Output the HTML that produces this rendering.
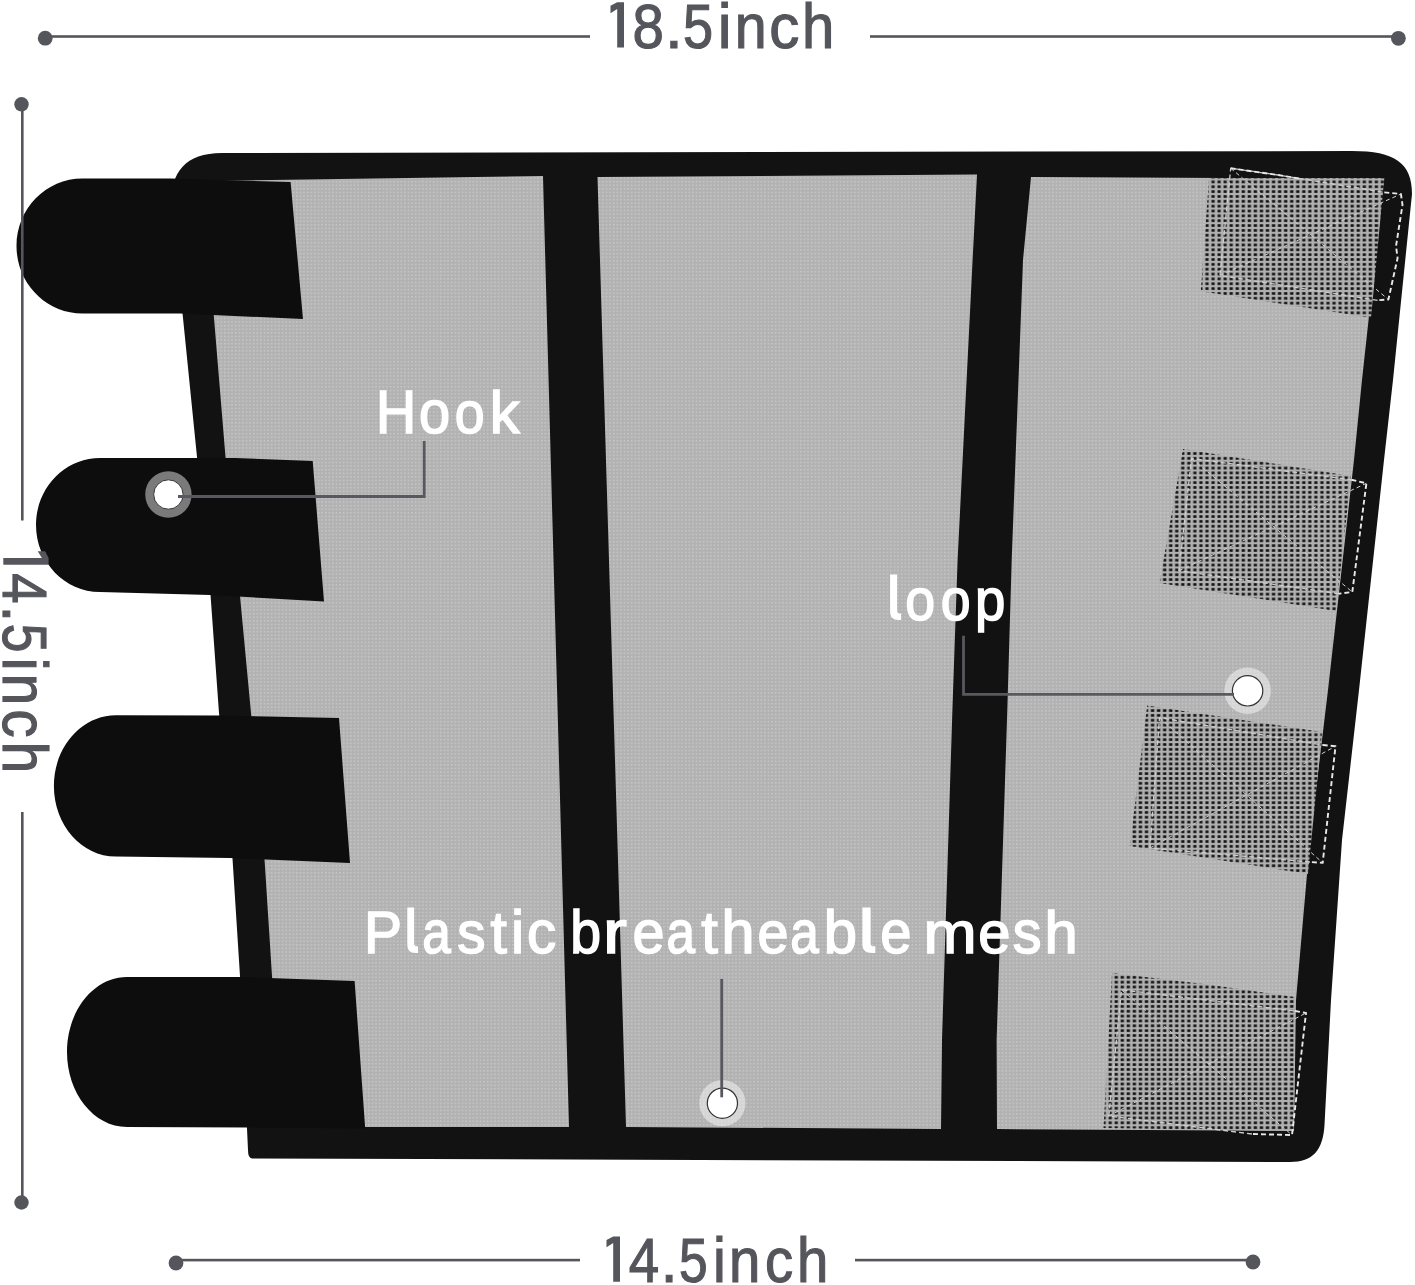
<!DOCTYPE html>
<html><head><meta charset="utf-8"><style>
html,body{margin:0;padding:0;background:#fff;width:1415px;height:1285px;overflow:hidden}
svg{display:block}
</style></head><body>
<svg width="1415" height="1285" viewBox="0 0 1415 1285">
<defs>
<pattern id="pgrid" patternUnits="userSpaceOnUse" x="0" y="0" width="6.05" height="4.85">
<rect width="6.05" height="4.85" fill="#b0b0b0"/>
<rect x="1.4" y="1.15" width="3.3" height="2.6" fill="#141414"/>
</pattern>
<pattern id="pmesh" patternUnits="userSpaceOnUse" x="0" y="0" width="3.6" height="3.6">
<rect width="3.6" height="3.6" fill="#b2b2b2"/>
<rect x="1" y="1" width="1.3" height="1.3" fill="#cfcfcf"/>
</pattern>
</defs>
<path fill="#121212" d="M171,205 C171,172 185,153 222,153 L1352,151 C1395,151 1412,163 1412,194 L1393,380 L1384,460 L1359,690 L1342,840 L1331,1000 L1324.5,1125 C1323,1150 1313,1162 1290,1162 L252,1158.5 Q248,1158 248,1150 L240,976 L232.6,860 L219,713 L210.6,596 L197,457 L183,318 Z"/>
<g fill="url(#pmesh)">
<path d="M203,181 L543,176 L569,1127 L281,1127 L272,976 L264.7,862 L251,713 L240,596 L225.5,457 L214,318 Z"/>
<path d="M597.5,177 L977,174.5 L972.6,260 L957.6,560 L952.4,710 L942,1040 L941,1129 L626,1127 Z"/>
<path d="M1031,177 L1384,179 L1362,380 L1354,460 L1328,690 L1310,840 L1296,1000 L1294,1131 L997,1129 L996.6,1040 L1007.3,710 L1011.7,560 L1023,260 Z"/>
</g>
<g fill="url(#pgrid)">
<path d="M1209,178 L1384.3,178 L1371,317.7 L1200.8,291.2 Z"/><path d="M1183,449 L1351,476 L1336,611 L1159.5,583 Z"/><path d="M1147.2,705.5 L1322,732 L1308,874 L1129.8,846 Z"/><path d="M1112,973 L1208,984.5 L1295,997 L1294,1131 L1103.5,1128 Z"/>
</g>
<g fill="none" stroke="#cdcdcd" stroke-width="1.3" stroke-dasharray="5 3" stroke-linejoin="round">
<path d="M1377.6,300.3 L1220,275.4 L1230.7,168.3 L1278,175 L1354.4,187.4 L1384.3,192.4"/><path d="M1339,593.7 L1179,570.7 L1191.5,458.5 L1351.4,479.8"/><path d="M1310,862 L1150,848 L1159.5,717.6 L1322.7,745"/><path d="M1251.9,1134 L1108.8,1116 L1121.5,989.8 L1295,1011"/>
</g>
<g fill="none" stroke="#e8e8e8" stroke-width="1.9" stroke-dasharray="5 3" stroke-linejoin="round">
<path d="M1230.7,168.3 L1278,175 L1300,178.6 M1384.3,192.4 L1400.9,194 L1402.5,204.8 L1396,246.3 L1397.6,258 L1388.4,299.5 L1377.6,300.3"/><path d="M1351.4,479.8 L1366.4,483.3 L1352.3,592 L1339,593.7"/><path d="M1322.7,745 L1335.5,746.2 L1322.7,862.8 L1310,862"/><path d="M1295,1011 L1306,1013 L1292,1135 L1251.9,1134"/>
</g>
<g fill="none" stroke="#d0d0d0" stroke-width="1" stroke-dasharray="4 3">
<path d="M1230.7,168.3 L1388.4,299.5 M1220,275.4 L1400.9,194"/><path d="M1191.5,458.5 L1352.3,592 M1179,570.7 L1366.4,483.3"/><path d="M1159.5,717.6 L1322.7,862.8 M1150,848 L1335.5,746.2"/><path d="M1121.5,989.8 L1292,1135 M1108.8,1116 L1306,1013"/>
</g>
<g fill="#0d0d0d">
<path d="M82.5,178.5 L170.0,178.5 L290.6,182.0 L303.0,319.0 L180.0,313.5 L82.5,313.5 C46.0,313.5 16.5,283.3 16.5,246.0 C16.5,208.7 46.0,178.5 82.5,178.5 Z"/>
<path d="M100.0,458.0 L235.0,458.0 L312.7,461.0 L324.0,601.5 L210.0,595.0 L100.0,592.0 C64.7,592.0 36.0,562.0 36.0,525.0 C36.0,488.0 64.7,458.0 100.0,458.0 Z"/>
<path d="M115.9,715.2 L220.0,715.5 L339.0,718.0 L350.0,863.0 L230.0,858.0 L115.9,856.5 C81.7,856.5 53.9,824.9 53.9,785.9 C53.9,746.8 81.7,715.2 115.9,715.2 Z"/>
<path d="M127.0,977.0 L240.0,977.0 L354.6,981.0 L365.2,1128.5 L250.0,1127.5 L127.0,1127.0 C93.9,1127.0 67.0,1093.4 67.0,1052.0 C67.0,1010.6 93.9,977.0 127.0,977.0 Z"/>
</g>
<g fill="#55555c">
<rect x="45" y="35.2" width="545" height="2.6"/>
<rect x="870" y="35.2" width="528" height="2.6"/>
<circle cx="45.2" cy="38.2" r="7.4"/>
<circle cx="1398.4" cy="38.3" r="7.4"/>
<rect x="21" y="104" width="2.6" height="416.5"/>
<rect x="21" y="812" width="2.6" height="390"/>
<circle cx="21.5" cy="104.3" r="7.2"/>
<circle cx="21.5" cy="1202.5" r="7.2"/>
<rect x="176" y="1258.8" width="404" height="2.6"/>
<rect x="855" y="1258.8" width="398" height="2.6"/>
<circle cx="176" cy="1263" r="7.4"/>
<circle cx="1253" cy="1262" r="7.4"/>
</g>
<g font-family="Liberation Sans" font-size="64" fill="#55555c" stroke="#55555c" stroke-width="1.2">
<path stroke="none" transform="translate(610.50,47.60)" d="M6.7,-45.3 L13.5,-45.3 L13.5,0 L6.7,0 L6.7,-38.6 L0,-34.4 L0,-41.8 Z"/>
<text transform="translate(632.38,47.60) scale(0.8814,0.970)">8</text>
<text transform="translate(665.10,47.60) scale(1.0000,0.970)">.</text>
<text transform="translate(682.97,47.60) scale(0.8462,0.970)">5</text>
<text transform="translate(717.69,47.60) scale(0.9722,0.970)">i</text>
<text transform="translate(734.75,47.60) scale(0.8973,0.970)">n</text>
<text transform="translate(769.14,47.60) scale(0.9397,0.970)">c</text>
<text transform="translate(801.91,47.60) scale(0.9075,0.970)">h</text>
<path stroke="none" transform="translate(606.50,1281.70)" d="M6.7,-45.3 L13.5,-45.3 L13.5,0 L6.7,0 L6.7,-38.6 L0,-34.4 L0,-41.8 Z"/>
<text transform="translate(628.66,1281.70) scale(0.8538,0.970)">4</text>
<text transform="translate(660.70,1281.70) scale(0.9444,0.970)">.</text>
<text transform="translate(679.07,1281.70) scale(0.8045,0.970)">5</text>
<text transform="translate(712.93,1281.70) scale(0.9028,0.970)">i</text>
<text transform="translate(729.11,1281.70) scale(0.8801,0.970)">n</text>
<text transform="translate(764.89,1281.70) scale(0.8794,0.970)">c</text>
<text transform="translate(797.11,1281.70) scale(0.8801,0.970)">h</text>
<g transform="translate(3.3,0) rotate(90)">
<path stroke="none" transform="translate(551.20,0.00)" d="M6.7,-45.3 L13.5,-45.3 L13.5,0 L6.7,0 L6.7,-38.6 L0,-34.4 L0,-41.8 Z"/>
<text transform="translate(573.36,0.00) scale(0.8538,0.970)">4</text>
<text transform="translate(605.40,0.00) scale(0.9444,0.970)">.</text>
<text transform="translate(623.77,0.00) scale(0.8045,0.970)">5</text>
<text transform="translate(657.63,0.00) scale(0.9028,0.970)">i</text>
<text transform="translate(673.81,0.00) scale(0.8801,0.970)">n</text>
<text transform="translate(709.59,0.00) scale(0.8794,0.970)">c</text>
<text transform="translate(741.81,0.00) scale(0.8801,0.970)">h</text>
</g>
</g>
<g font-family="Liberation Sans" font-size="64" fill="#fff" stroke="#fff" stroke-width="1.7">
<text transform="translate(375.99,432.90) scale(0.8700,0.940)">H</text>
<text transform="translate(419.02,432.90) scale(0.8738,0.940)">o</text>
<text transform="translate(454.70,432.90) scale(0.8391,0.940)">o</text>
<text transform="translate(489.76,432.90) scale(0.9327,0.940)">k</text>
<path stroke="none" transform="translate(890.10,620.10) scale(1.000,1)" d="M0,-45.5 L7,-45.5 L7,-10 C7,-7.6 7.8,-6.6 9.6,-6.6 L11,-6.6 L11,0 L8.6,0 C2.6,0 0,-3 0,-9 Z"/>
<text transform="translate(905.30,620.10) scale(0.8391,0.940)">o</text>
<text transform="translate(940.70,620.10) scale(0.8391,0.940)">o</text>
<text transform="translate(975.11,620.10) scale(0.8534,0.940)">p</text>
<text transform="translate(364.10,952.90) scale(0.8908,0.940)">P</text>
<path stroke="none" transform="translate(407.30,952.90) scale(0.973,1)" d="M0,-45.5 L7,-45.5 L7,-10 C7,-7.6 7.8,-6.6 9.6,-6.6 L11,-6.6 L11,0 L8.6,0 C2.6,0 0,-3 0,-9 Z"/>
<text transform="translate(422.15,952.90) scale(0.8000,0.940)">a</text>
<text transform="translate(457.19,952.90) scale(0.8822,0.940)">s</text>
<text transform="translate(490.56,952.90) scale(0.9209,0.940)">t</text>
<text transform="translate(511.10,952.90) scale(0.9221,0.940)">i</text>
<text transform="translate(526.94,952.90) scale(0.9094,0.940)">c</text>
<text transform="translate(570.17,952.90) scale(0.8664,0.940)">b</text>
<text transform="translate(603.01,952.90) scale(1.1200,0.940)">r</text>
<text transform="translate(632.47,952.90) scale(0.8991,0.940)">e</text>
<text transform="translate(666.60,952.90) scale(0.8000,0.940)">a</text>
<text transform="translate(701.36,952.90) scale(0.9322,0.940)">t</text>
<text transform="translate(721.58,952.90) scale(0.9259,0.940)">h</text>
<text transform="translate(757.53,952.90) scale(0.8707,0.940)">e</text>
<text transform="translate(790.20,952.90) scale(0.8000,0.940)">a</text>
<text transform="translate(823.86,952.90) scale(0.9349,0.940)">b</text>
<path stroke="none" transform="translate(862.40,952.90) scale(1.173,1)" d="M0,-45.5 L7,-45.5 L7,-10 C7,-7.6 7.8,-6.6 9.6,-6.6 L11,-6.6 L11,0 L8.6,0 C2.6,0 0,-3 0,-9 Z"/>
<text transform="translate(880.31,952.90) scale(0.8770,0.940)">e</text>
<text transform="translate(923.56,952.90) scale(0.9957,0.940)">m</text>
<text transform="translate(978.25,952.90) scale(0.9054,0.940)">e</text>
<text transform="translate(1012.77,952.90) scale(0.8990,0.940)">s</text>
<text transform="translate(1044.46,952.90) scale(0.9327,0.940)">h</text>
</g>

<g>
<circle cx="168.4" cy="494.5" r="23.2" fill="rgba(255,255,255,0.45)"/>
<circle cx="168.4" cy="494.5" r="14.7" fill="#fff" stroke="#333" stroke-width="1"/>
<circle cx="1247.6" cy="690.8" r="23.3" fill="rgba(255,255,255,0.45)"/>
<circle cx="1247.6" cy="690.8" r="15.2" fill="#fff" stroke="#333" stroke-width="1.2"/>
<circle cx="722.4" cy="1103.2" r="23.1" fill="rgba(255,255,255,0.45)"/>
<circle cx="722.4" cy="1103.2" r="15.1" fill="#fff" stroke="#333" stroke-width="1.2"/>
</g>
<g fill="none" stroke="#58585f" stroke-width="2.8">
<polyline points="178,496.5 424.2,496.5 424.2,441"/>
<polyline points="1234,694.3 963.5,694.3 963.5,635.7"/>
<polyline points="721.7,978.9 721.7,1097.3"/>
</g>
</svg>
</body></html>
